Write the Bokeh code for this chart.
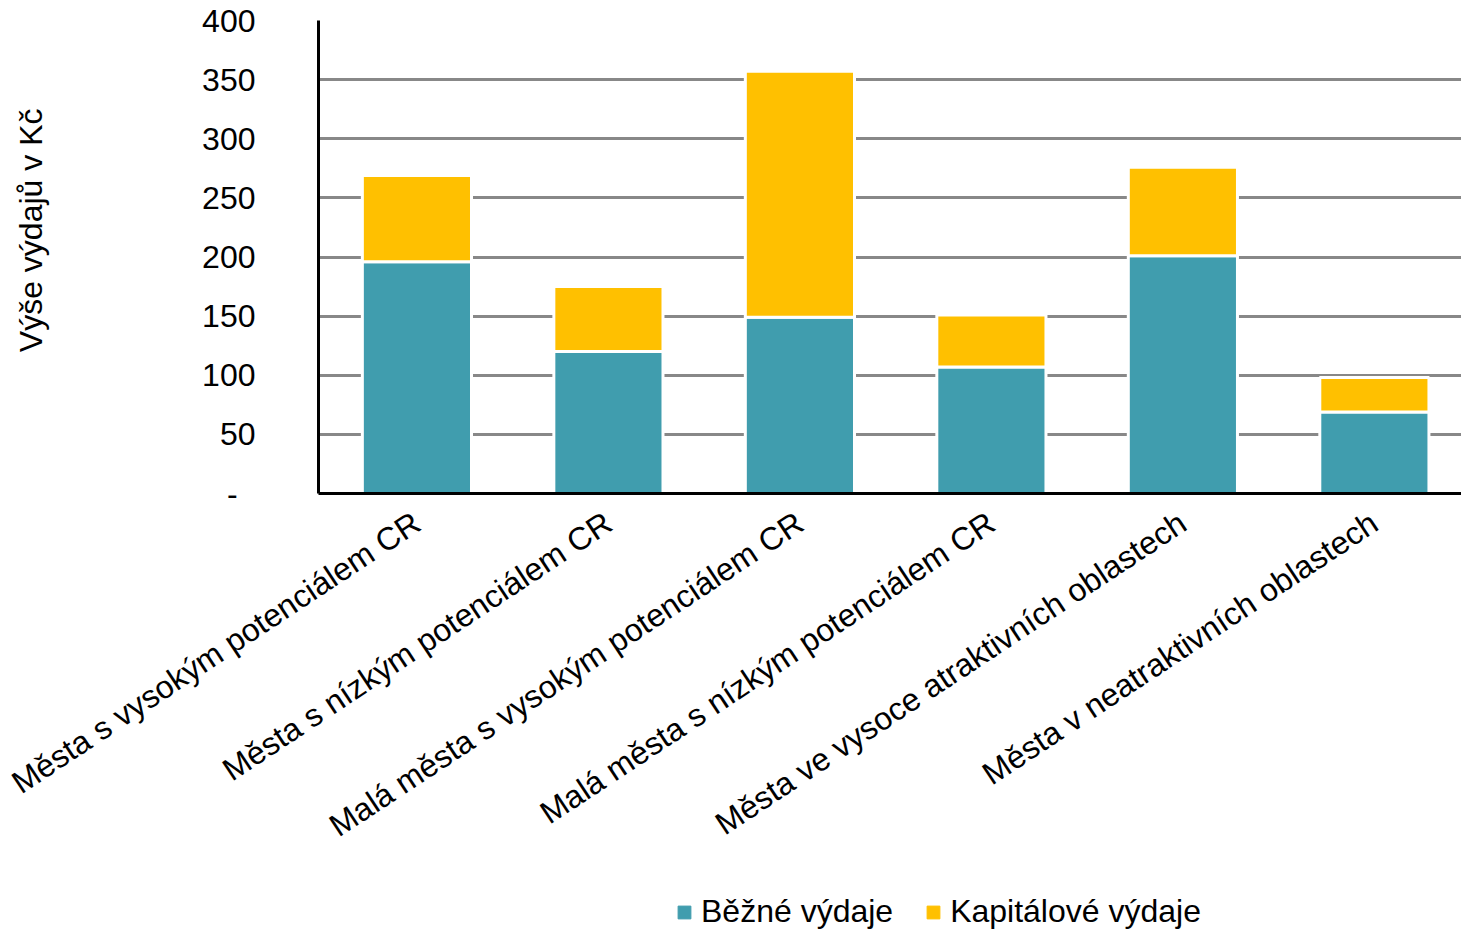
import math
from bokeh.plotting import figure
from bokeh.layouts import column
from bokeh.models import FixedTicker, Legend, LegendItem, Range1d
from bokeh.embed import file_html
from bokeh.resources import INLINE

categories = [
    "Města s vysokým potenciálem CR",
    "Města s nízkým potenciálem CR",
    "Malá města s vysokým potenciálem CR",
    "Malá města s nízkým potenciálem CR",
    "Města ve vysoce atraktivních oblastech",
    "Města v neatraktivních oblastech",
]
bezne = [196, 120, 149, 107, 201, 69]
kapitalove = [73, 55, 208, 44, 75, 29]
series_names = ["Běžné výdaje", "Kapitálové výdaje"]
colors = ["#409DAE", "#FFC000"]
y_ticks = [0, 50, 100, 150, 200, 250, 300, 350, 400]

FONT = "Liberation Sans"
FS = "32px"

x = list(range(len(categories)))
data = dict(x=x, bezne=bezne, kapitalove=kapitalove)

p = figure(width=1461, height=894, output_backend="svg", toolbar_location=None,
           x_range=Range1d(-0.514, 5.455), y_range=Range1d(0, 400),
           min_border_left=318, min_border_right=0, min_border_top=20,
           min_border_bottom=401)
p.outline_line_color = None

rs = p.vbar_stack(["bezne", "kapitalove"], x="x", width=0.57, source=data,
                  color=colors, line_color="white", line_width=3)

p.xgrid.visible = False
p.ygrid.grid_line_color = "#888888"
p.ygrid.grid_line_width = 3
p.ygrid.ticker = FixedTicker(ticks=y_ticks)

p.yaxis.ticker = FixedTicker(ticks=y_ticks)
p.yaxis.major_label_overrides = {0: "-\u00a0\u00a0"}
p.yaxis.axis_line_color = "black"
p.yaxis.axis_line_width = 3
p.yaxis.major_tick_line_color = None
p.yaxis.minor_tick_line_color = None
p.yaxis.major_label_text_font = FONT
p.yaxis.major_label_text_font_size = FS
p.yaxis.major_label_text_color = "black"
p.yaxis.major_label_standoff = 57
p.yaxis.axis_label = "\u00a0" * 6 + "Výše výdajů v Kč"
p.yaxis.axis_label_text_font = FONT
p.yaxis.axis_label_text_font_size = FS
p.yaxis.axis_label_text_font_style = "normal"
p.yaxis.axis_label_text_color = "black"
p.yaxis.axis_label_standoff = 150

p.xaxis.ticker = FixedTicker(ticks=x)
p.xaxis.major_label_overrides = {i: c for i, c in zip(x, categories)}
p.xaxis.axis_line_color = "black"
p.xaxis.axis_line_width = 3
p.xaxis.major_tick_line_color = None
p.xaxis.minor_tick_line_color = None
p.xaxis.major_label_orientation = math.radians(33.5)
p.xaxis.major_label_text_font = FONT
p.xaxis.major_label_text_font_size = FS
p.xaxis.major_label_text_color = "black"
p.xaxis.major_label_standoff = 20

# legend strip below the chart (its frame is aligned with the main frame)
p2 = figure(width=1461, height=36, output_backend="svg", toolbar_location=None,
            x_range=Range1d(0, 1), y_range=Range1d(0, 1),
            min_border_left=0, min_border_right=0, min_border_top=0, min_border_bottom=0)
p2.axis.visible = False
p2.grid.visible = False
p2.outline_line_color = None
lr = [p2.vbar(x=[-5], top=[-5], width=0.1, color=c) for c in colors]
legend = Legend(items=[LegendItem(label=n, renderers=[r]) for n, r in zip(series_names, lr)],
                orientation="horizontal", location=(358, 0),
                label_text_font=FONT, label_text_font_size=FS, label_text_color="black",
                glyph_width=16, glyph_height=16, spacing=32, label_standoff=9,
                border_line_color=None, background_fill_alpha=0,
                padding=0, margin=0)
p2.add_layout(legend, "center")

layout = column(p, p2, spacing=0)
open("out.html", "w").write(file_html(layout, INLINE))
